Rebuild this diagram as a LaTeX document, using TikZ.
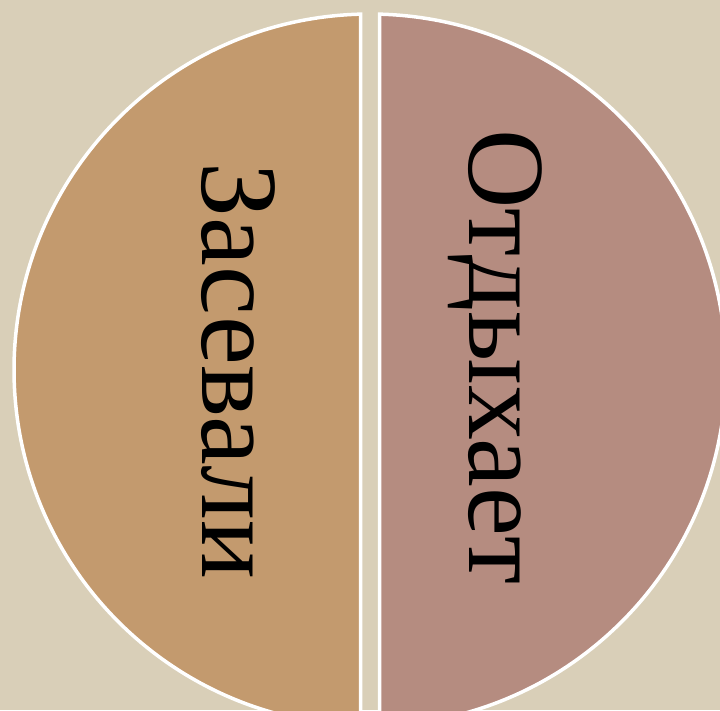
\documentclass[tikz,border=0pt]{standalone}
\usepackage{fontspec}
\setmainfont{Liberation Serif}
\definecolor{paper}{HTML}{D9CFB8}
\definecolor{sown}{HTML}{C39A6E}
\definecolor{rest}{HTML}{B58C80}
\begin{document}
\begin{tikzpicture}[x=1pt, y=1pt,
  half/.style={draw=white, line width=3.5pt},
  word/.style={rotate=-90, anchor=base, inner sep=0pt, font=\fontsize{110}{120}\selectfont}]
\useasboundingbox (0,0) rectangle (720,710);
\clip (0,0) rectangle (720,710);
\fill[paper] (0,0) rectangle (720,710);
% left half
\draw[half, fill=sown] (370,340) ++(91.53:356) arc[start angle=91.53, end angle=268.47, radius=356] -- cycle;
% right half
\draw[half, fill=rest] (370,340) ++(88.47:356) arc[start angle=88.47, end angle=-88.47, radius=356] -- cycle;
\node[word] (sowing) at (202,339) {Засевали};
\node[word] (resting) at (469,353) {Отдыхает};
\end{tikzpicture}
\end{document}
